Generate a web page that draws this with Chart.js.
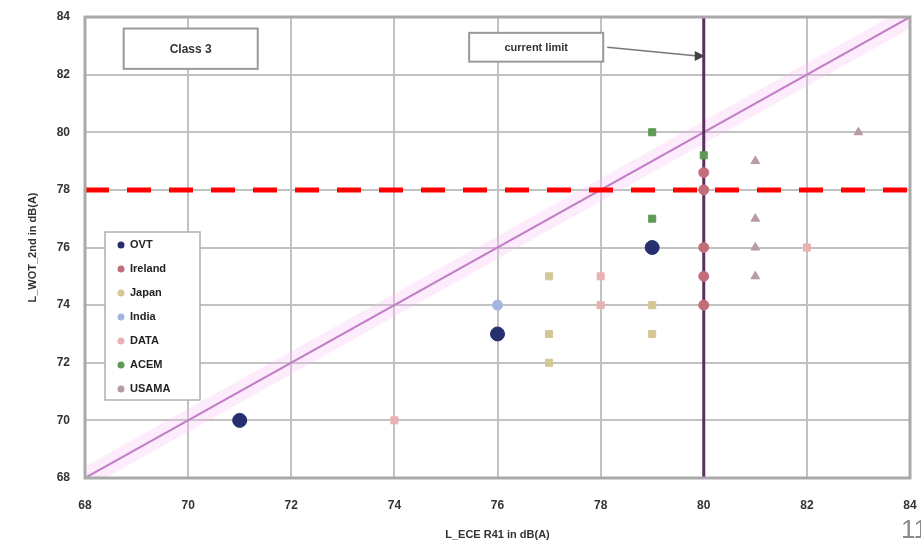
<!DOCTYPE html>
<html>
<head>
<meta charset="utf-8">
<script src="https://cdn.jsdelivr.net/npm/chart.js@4.4.1/dist/chart.umd.min.js"></script>
<style>
html,body{margin:0;padding:0;background:#fff;overflow:hidden;}
#wrap{position:relative;width:921px;height:548px;}
#pg{position:absolute;left:901px;top:514px;font:26px "Liberation Sans",Arial,sans-serif;color:#8a8a8a;white-space:nowrap;}
</style>
</head>
<body>
<div id="wrap"><canvas id="c" width="921" height="548"></canvas><div id="pg">11</div></div>
<script>
// ---- data ----
const xTicks = [68, 70, 72, 74, 76, 78, 80, 82, 84];
const yTicks = [68, 70, 72, 74, 76, 78, 80, 82, 84];
const seriesNames = ["OVT", "Ireland", "Japan", "India", "DATA", "ACEM", "USAMA"];
const ovtX = [71, 76, 79];
const ovtY = [70, 73, 76];
const irelandX = [80, 80, 80, 80, 80];
const irelandY = [78.6, 78, 76, 75, 74];
const japanX = [77, 77, 77, 79, 79];
const japanY = [75, 73, 72, 74, 73];
const indiaX = [76];
const indiaY = [74];
const dataX = [78, 78, 74, 82];
const dataY = [75, 74, 70, 76];
const acemX = [79, 80, 79];
const acemY = [80, 79.2, 77];
const usamaX = [81, 81, 81, 81, 83];
const usamaY = [79, 77, 76, 75, 80];
const diagonalX = [68, 84];
const diagonalY = [68, 84];
const currentLimitX = [80, 80];
const currentLimitY = [68, 84];
const targetX = [68, 84];
const targetY = [78, 78];
const xTitle = "L_ECE R41 in dB(A)";
const yTitle = "L_WOT_2nd in dB(A)";
const boxClass = "Class 3";
const boxLimit = "current limit";

const pts = (xs, ys) => xs.map((v, i) => ({x: v, y: ys[i]}));

const seriesColors = ["#27306e", "#c46d7a", "#d4c796", "#a3b4de", "#e8b2b2", "#5e9b55", "#b99aa7"];
const seriesData = [
  pts(ovtX, ovtY), pts(irelandX, irelandY), pts(japanX, japanY), pts(indiaX, indiaY),
  pts(dataX, dataY), pts(acemX, acemY), pts(usamaX, usamaY)
];
const seriesStyle = ["circle", "circle", "rect", "circle", "rect", "rect", "triangle"];
const seriesRadius = [7, 5, 5, 5, 5, 5, 5];

const datasets = [
  {label: "band", data: pts(diagonalX, diagonalY), showLine: true, borderColor: "rgba(245,185,245,0.28)", borderWidth: 20, pointRadius: 0, order: 10},
  {label: "diag", data: pts(diagonalX, diagonalY), showLine: true, borderColor: "#c27fc6", borderWidth: 2, pointRadius: 0, order: 9},
  {label: "limit", data: pts(currentLimitX, currentLimitY), showLine: true, borderColor: "#5b2f5e", borderWidth: 3, pointRadius: 0, order: 8},
];
seriesNames.forEach((n, i) => {
  datasets.push({label: n, data: seriesData[i], backgroundColor: seriesColors[i], borderColor: seriesColors[i],
    pointStyle: seriesStyle[i], pointRadius: seriesRadius[i], borderWidth: 1, showLine: false, order: 5});
});
datasets.push({label: "target", data: pts(targetX, targetY), showLine: true, borderColor: "#ff0000", borderWidth: 5, borderDash: [24, 18], pointRadius: 0, order: 1});

const deco = {
  id: "deco",
  afterDatasetsDraw(chart) {
    const {ctx, chartArea: a, scales: {x, y}} = chart;
    ctx.save();
    ctx.strokeStyle = "#a9a9a9"; ctx.lineWidth = 3;
    ctx.strokeRect(a.left, a.top, a.right - a.left, a.bottom - a.top);
    const box = (x0, x1, y0, y1, txt, size) => {
      const L = x.getPixelForValue(x0), R = x.getPixelForValue(x1);
      const T = y.getPixelForValue(y0), B = y.getPixelForValue(y1);
      ctx.fillStyle = "#fff"; ctx.fillRect(L, T, R - L, B - T);
      ctx.strokeStyle = "#9a9a9a"; ctx.lineWidth = 2; ctx.strokeRect(L, T, R - L, B - T);
      ctx.fillStyle = "#333"; ctx.font = "bold " + size + "px 'Liberation Sans', Arial, sans-serif";
      ctx.textAlign = "center"; ctx.textBaseline = "middle";
      ctx.fillText(txt, (L + R) / 2, (T + B) / 2 + 1);
      return {L, R, T, B};
    };
    box(68.75, 71.35, 83.6, 82.2, boxClass, 12);
    const b = box(75.45, 78.05, 83.45, 82.45, boxLimit, 11);
    const ax = x.getPixelForValue(80), ay = y.getPixelForValue(82.65);
    const sx = b.R + 4, sy = (b.T + b.B) / 2;
    ctx.strokeStyle = "#777"; ctx.lineWidth = 1.5;
    ctx.beginPath(); ctx.moveTo(sx, sy); ctx.lineTo(ax - 6, ay); ctx.stroke();
    ctx.fillStyle = "#444";
    ctx.beginPath(); ctx.moveTo(ax + 1, ay); ctx.lineTo(ax - 9, ay - 5); ctx.lineTo(ax - 9, ay + 5); ctx.closePath(); ctx.fill();
    const lx = a.left + 20, ly = a.top + 215, lw = 95, lh = 168;
    ctx.fillStyle = "#fff"; ctx.fillRect(lx, ly, lw, lh);
    ctx.strokeStyle = "#b0b0b0"; ctx.lineWidth = 1.5; ctx.strokeRect(lx, ly, lw, lh);
    ctx.font = "bold 11px 'Liberation Sans', Arial, sans-serif";
    ctx.textAlign = "left"; ctx.textBaseline = "middle";
    seriesNames.forEach((n, i) => {
      const cy = ly + 13 + i * 24;
      ctx.fillStyle = seriesColors[i];
      ctx.beginPath(); ctx.arc(lx + 16, cy, 3.5, 0, Math.PI * 2); ctx.fill();
      ctx.fillStyle = "#222";
      ctx.fillText(n, lx + 25, cy);
    });
    ctx.restore();
  }
};

new Chart(document.getElementById("c"), {
  type: "scatter",
  data: {datasets},
  options: {
    responsive: false,
    animation: false,
    layout: {padding: {left: 0, top: 17, right: 11, bottom: 0}},
    plugins: {legend: {display: false}, tooltip: {enabled: false}},
    scales: {
      x: {
        type: "linear", min: xTicks[0], max: xTicks[xTicks.length - 1],
        afterBuildTicks: s => { s.ticks = xTicks.map(v => ({value: v})); },
        afterFit: s => { s.height = 70; s.paddingLeft = 0; s.paddingRight = 0; },
        grid: {color: "#c2c2c2", lineWidth: 2, drawTicks: false},
        border: {display: false},
        ticks: {padding: 20, color: "#333", font: {family: "'Liberation Sans', Arial, sans-serif", size: 12, weight: "bold"}},
        title: {display: true, text: xTitle, color: "#333", padding: {top: 0, bottom: 6}, font: {family: "'Liberation Sans', Arial, sans-serif", size: 11, weight: "bold"}}
      },
      y: {
        type: "linear", min: yTicks[0], max: yTicks[yTicks.length - 1],
        afterBuildTicks: s => { s.ticks = yTicks.map(v => ({value: v})); },
        afterFit: s => { s.width = 85; s.paddingTop = 0; s.paddingBottom = 0; },
        grid: {color: "#c2c2c2", lineWidth: 2, drawTicks: false},
        border: {display: false},
        ticks: {padding: 15, color: "#333", font: {family: "'Liberation Sans', Arial, sans-serif", size: 12, weight: "bold"}},
        title: {display: true, text: yTitle, color: "#333", padding: {top: 26, bottom: 0}, font: {family: "'Liberation Sans', Arial, sans-serif", size: 11, weight: "bold"}}
      }
    }
  },
  plugins: [deco]
});
</script>
</body>
</html>
